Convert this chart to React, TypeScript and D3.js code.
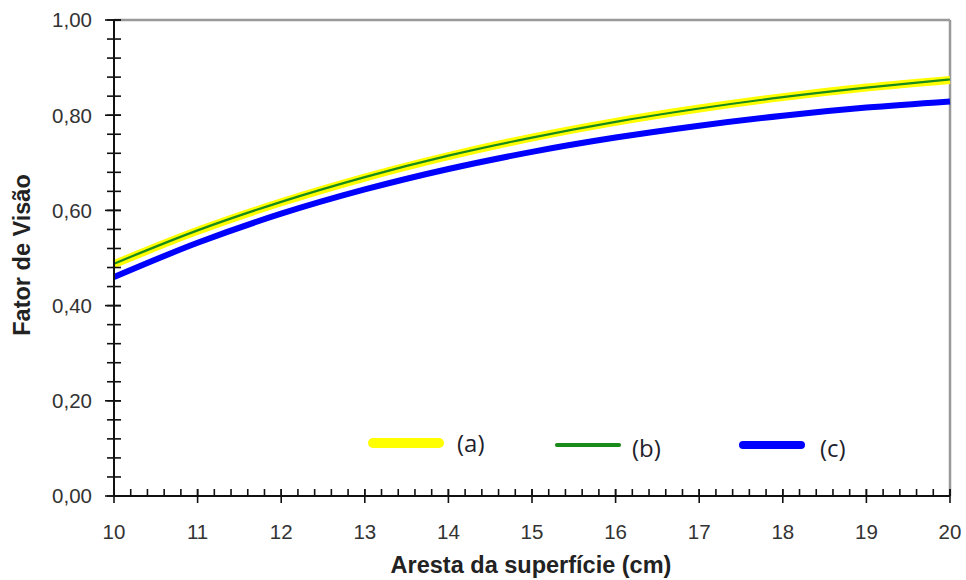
import React from "react";
import * as d3 from "d3";

// values
const edge = [10, 11, 12, 13, 14, 15, 16, 17, 18, 19, 20];
const serieA = [0.487, 0.557, 0.617, 0.669, 0.714, 0.753, 0.786, 0.814, 0.838, 0.858, 0.874];
const serieB = [0.488, 0.558, 0.618, 0.67, 0.715, 0.753, 0.786, 0.814, 0.838, 0.858, 0.875];
const serieC = [0.46, 0.532, 0.593, 0.644, 0.687, 0.723, 0.753, 0.778, 0.799, 0.816, 0.829];
const yTicks = [0, 0.2, 0.4, 0.6, 0.8, 1.0];
const xTicks = [10, 11, 12, 13, 14, 15, 16, 17, 18, 19, 20];

const W = 966;
const H = 580;
const left = 114, right = 950, top = 20, bottom = 496;

const x = d3.scaleLinear().domain([10, 20]).range([left, right]);
const y = d3.scaleLinear().domain([0, 1]).range([bottom, top]);

const series = [
  { name: "(a)", values: serieA, color: "#ffff00", width: 8, lx: 373, lx2: 439, ly: 443, tx: 457, ty: 452 },
  { name: "(b)", values: serieB, color: "#1a8a1a", width: 2.2, lx: 557, lx2: 619, ly: 445, tx: 632, ty: 457 },
  { name: "(c)", values: serieC, color: "#0000ff", width: 6, lx: 743, lx2: 801, ly: 445, tx: 820, ty: 457 },
];

const fmt = (v: number) => v.toFixed(2).replace(".", ",");

export default function App() {
  const line = d3
    .line<number>()
    .x((d, i) => x(edge[i]))
    .y((d) => y(d))
    .curve(d3.curveMonotoneX);

  const yMinor = d3.range(0, 1.0001, 0.04);
  const xMinor = d3.range(10, 20.0001, 0.2);

  return (
    <svg width={W} height={H} style={{ position: "absolute", left: 0, top: 0, background: "#fff" }}>
      {/* frame */}
      <line x1={left} y1={top} x2={right} y2={top} stroke="#999" strokeWidth={2.5} />
      <line x1={right} y1={top} x2={right} y2={bottom} stroke="#999" strokeWidth={2.5} />

      {/* curves */}
      {series.map((s) => (
        <path key={s.name} d={line(s.values) || ""} fill="none" stroke={s.color} strokeWidth={s.width} />
      ))}

      {/* y axis */}
      <line x1={left} y1={top} x2={left} y2={bottom} stroke="#111" strokeWidth={2} />
      {yMinor.map((v, i) => (
        <line key={"ym" + i} x1={107} x2={121} y1={y(v)} y2={y(v)} stroke="#111" strokeWidth={1.6} />
      ))}
      {yTicks.map((v) => (
        <g key={"yt" + v}>
          <line x1={105} x2={121} y1={y(v)} y2={y(v)} stroke="#111" strokeWidth={1.6} />
          <text x={92} y={y(v)} dy="0.36em" textAnchor="end" fontFamily="Liberation Sans, Arial" fontSize={20.5} fill="#333">
            {fmt(v)}
          </text>
        </g>
      ))}

      {/* x axis */}
      <line x1={left} y1={bottom} x2={right} y2={bottom} stroke="#111" strokeWidth={2} />
      {xMinor.map((v, i) => (
        <line key={"xm" + i} x1={x(v)} x2={x(v)} y1={489} y2={bottom} stroke="#111" strokeWidth={1.6} />
      ))}
      {xTicks.map((v) => (
        <g key={"xt" + v}>
          <line x1={x(v)} x2={x(v)} y1={489} y2={503} stroke="#111" strokeWidth={1.6} />
          <text x={x(v)} y={539} textAnchor="middle" fontFamily="Liberation Sans, Arial" fontSize={20.5} fill="#333">
            {v}
          </text>
        </g>
      ))}

      {/* axis titles */}
      <text x={531} y={573} textAnchor="middle" fontFamily="Liberation Sans, Arial" fontWeight="bold" fontSize={23.5} fill="#222">
        Aresta da superfície (cm)
      </text>
      <text
        transform={`translate(30,255) rotate(-90)`}
        textAnchor="middle"
        fontFamily="Liberation Sans, Arial"
        fontWeight="bold"
        fontSize={23.5}
        fill="#222"
      >
        Fator de Visão
      </text>

      {/* legend */}
      {series.map((s) => (
        <g key={"lg" + s.name}>
          <line x1={s.lx} x2={s.lx2} y1={s.ly} y2={s.ly} stroke={s.color} strokeWidth={s.width + 2} strokeLinecap="round" />
          <text x={s.tx} y={s.ty} fontFamily="Open Sans, Noto Sans" fontSize={24} fill="#1f1f2e">
            {s.name}
          </text>
        </g>
      ))}
    </svg>
  );
}
